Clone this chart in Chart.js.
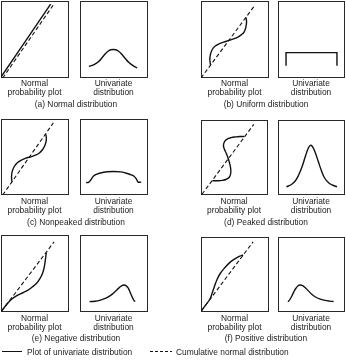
<!DOCTYPE html>
<html>
<head>
<meta charset="utf-8">
<script src="https://cdn.jsdelivr.net/npm/chart.js@4.4.1/dist/chart.umd.min.js"></script>
<style>
  html, body { margin: 0; padding: 0; background: #fff; }
  body { position: relative; width: 346px; height: 360px; overflow: hidden;
         font-family: "Liberation Sans", Arial, sans-serif; color: #1c1c1c; }
  canvas { position: absolute; }
  .lbl { position: absolute; font-size: 8.4px; line-height: 9px; text-align: center;
         white-space: nowrap; transform: translate(-50%, -50%); }
  .leg { position: absolute; font-size: 8.4px; line-height: 9px; white-space: nowrap; transform: translateY(-50%); }
  .swatch { position: absolute; height: 1px; }
</style>
</head>
<body>
<script>
// Panel coordinates run 0..100 on both axes inside each frame.

// (a) normal
const aRefLine  = [[2.5, 0], [77, 95]];
const aProbLine = [[0, 1.3], [73, 96]];
const aDensity  = [[13, 15], [20, 17], [27, 21], [33, 27], [38, 32], [43, 36], [49, 37],
                   [55, 36], [60, 32], [66, 26], [72, 20], [78, 16], [84, 13]];

// (b) uniform
const bRefLine  = [[0, 0], [78, 93]];
const bProbLine = [[14, 17], [13, 24], [14, 31], [16.5, 37], [21, 41.5], [27, 44.5], [33, 46.5],
                   [40, 48.5], [47, 50.5], [53, 52.5], [59, 56], [63.5, 60], [66, 66], [67, 73], [66, 78.7]];
const bDensity  = [[12, 16], [12, 33], [88, 33], [88, 16]];

// (c) nonpeaked
const cRefLine  = [[2.5, 0], [77, 95]];
const cProbLine = [[16, 17.5], [15.5, 24], [16.5, 31], [19.5, 37.5], [24, 42.5], [30, 46], [36.5, 48.5],
                   [43, 50], [49.5, 52], [56, 55], [61, 59.5], [64.5, 65], [66.5, 71.5], [66.5, 77], [65.5, 80.5]];
const cDensity  = [[9, 16.5], [12.5, 16.5], [16, 20], [20, 25], [25, 27.5], [30, 29], [40, 30.5], [50, 31],
                   [60, 30.5], [67, 29], [74, 27], [79, 25], [83, 21], [85.5, 17], [90, 17]];

// (d) peaked
const dRefLine  = [[1.5, 1], [78.8, 94.2]];
const dProbLine = [[17, 19], [24, 19], [32, 19.5], [38, 21], [42.5, 24], [44.5, 30], [44, 37], [42.5, 43],
                   [40.5, 49], [38, 55], [35, 61], [33.5, 66], [35, 71], [39, 74.5], [45, 76.5], [52, 77.5],
                   [58, 78], [64.5, 78]];
const dDensity  = [[12.6, 11], [20, 14], [26, 19], [31, 27], [36, 38], [41, 52], [45, 62], [48, 66],
                   [51, 65], [55, 58], [60, 45], [65, 32], [70, 22], [76, 16], [82, 13], [88, 11]];

// (e) negative skew
const eRefLine  = [[1, 1.3], [78, 91]];
const eProbLine = [[1, 1.3], [8, 9.5], [16, 17], [24, 21.5], [32, 25], [39, 28], [46, 32.5], [52, 37],
                   [57, 43], [61, 50], [63.5, 58], [65, 66], [66, 73], [66.5, 77]];
const eDensity  = [[14, 13.5], [22, 14], [30, 15.5], [38, 18], [45, 21.5], [51, 26], [57, 31], [61, 34],
                   [65, 35], [68, 34], [71, 31], [74, 25], [77, 19], [79, 15.5], [81, 13.5]];

// (f) positive skew
const fRefLine  = [[0.5, 1.4], [76.6, 93.6]];
const fProbLine = [[0.5, 1.4], [7, 9.5], [13, 17], [16, 24], [19, 32], [23, 42], [28, 51], [35, 59],
                   [43, 66.5], [51, 71.5], [57, 74.5], [62, 76]];
const fDensity  = [[15, 13.5], [18, 17], [21, 22], [24, 27.5], [27, 32], [30, 35], [33, 36], [36, 35.5],
                   [40, 33], [45, 28.5], [50, 24], [56, 20], [62, 17.5], [70, 15.5], [77, 14.5], [83, 14]];

const captions = ['(a) Normal distribution', '(b) Uniform distribution', '(c) Nonpeaked distribution',
                  '(d) Peaked distribution', '(e) Negative distribution', '(f) Positive distribution'];
const plotTitle = ['Normal', 'probability plot'];
const distTitle = ['Univariate', 'distribution'];
const legendLabels = ['Plot of univariate distribution', 'Cumulative normal distribution'];

// frame boxes: [left, top, right, bottom]
const panels = [
  { prob: [1, 1, 68, 77],    dist: [80, 1, 147, 77],    ref: aRefLine, line: aProbLine, dens: aDensity, cap: [76, 104], txt: 83 },
  { prob: [201, 1, 268, 77], dist: [278, 1, 344, 77],   ref: bRefLine, line: bProbLine, dens: bDensity, cap: [266, 104], txt: 83, sharp: true },
  { prob: [1, 119, 68, 194], dist: [80, 119, 147, 194], ref: cRefLine, line: cProbLine, dens: cDensity, cap: [76, 222], txt: 201 },
  { prob: [201, 120, 267, 194], dist: [278, 120, 344, 194], ref: dRefLine, line: dProbLine, dens: dDensity, cap: [266, 222], txt: 201 },
  { prob: [1, 235, 68, 311], dist: [80, 235, 147, 311], ref: eRefLine, line: eProbLine, dens: eDensity, cap: [76, 338], txt: 318 },
  { prob: [201, 237, 268, 311], dist: [278, 237, 344, 311], ref: fRefLine, line: fProbLine, dens: fDensity, cap: [266, 338], txt: 318 }
];

const framePlugin = {
  id: 'frame',
  beforeDatasetsDraw(chart) {
    const { ctx, width, height } = chart;
    ctx.save();
    ctx.strokeStyle = '#2a2a2a';
    ctx.lineWidth = 1;
    ctx.strokeRect(0.5, 0.5, width - 1, height - 1);
    ctx.restore();
  }
};

const toPts = arr => arr.map(([x, y]) => ({ x, y }));

function solid(arr, tension) {
  return { data: toPts(arr), showLine: true, borderColor: '#111', borderWidth: 1.4,
           pointRadius: 0, tension: tension, fill: false };
}
function dashed(arr) {
  return { data: toPts(arr), showLine: true, borderColor: '#111', borderWidth: 1.1,
           borderDash: [4, 2.5], pointRadius: 0, tension: 0, fill: false };
}

function makeChart(box, datasets) {
  const [l, t, r, b] = box;
  const cv = document.createElement('canvas');
  cv.width = r - l + 1;
  cv.height = b - t + 1;
  cv.style.left = l + 'px';
  cv.style.top = t + 'px';
  cv.style.width = cv.width + 'px';
  cv.style.height = cv.height + 'px';
  document.body.appendChild(cv);
  new Chart(cv, {
    type: 'scatter',
    data: { datasets },
    options: {
      responsive: false, animation: false, events: [],
      devicePixelRatio: 1,
      layout: { padding: 0 },
      plugins: { legend: { display: false }, tooltip: { enabled: false } },
      scales: {
        x: { type: 'linear', min: 0, max: 100, display: false },
        y: { type: 'linear', min: 0, max: 100, display: false }
      }
    },
    plugins: [framePlugin]
  });
}

function addText(text, x, y, cls) {
  const d = document.createElement('div');
  d.className = cls;
  d.textContent = text;
  d.style.left = x + 'px';
  d.style.top = y + 'px';
  document.body.appendChild(d);
}

panels.forEach((p, i) => {
  makeChart(p.prob, [dashed(p.ref), solid(p.line, 0.4)]);
  makeChart(p.dist, [solid(p.dens, p.sharp ? 0 : 0.4)]);
  const pc = (p.prob[0] + p.prob[2]) / 2;
  const dc = (p.dist[0] + p.dist[2]) / 2;
  addText(plotTitle[0], pc, p.txt, 'lbl');
  addText(plotTitle[1], pc, p.txt + 9, 'lbl');
  addText(distTitle[0], dc, p.txt, 'lbl');
  addText(distTitle[1], dc, p.txt + 9, 'lbl');
  addText(captions[i], p.cap[0], p.cap[1], 'lbl');
});

// legend
const s1 = document.createElement('div');
s1.className = 'swatch';
Object.assign(s1.style, { left: '2px', top: '351px', width: '20px', background: '#111' });
document.body.appendChild(s1);
addText(legendLabels[0], 27, 351.5, 'leg');

const s2 = document.createElement('div');
s2.className = 'swatch';
Object.assign(s2.style, { left: '150px', top: '351px', width: '22px',
  background: 'repeating-linear-gradient(to right, #111 0 3px, transparent 3px 5px)' });
document.body.appendChild(s2);
addText(legendLabels[1], 176, 351.5, 'leg');
</script>
</body>
</html>
